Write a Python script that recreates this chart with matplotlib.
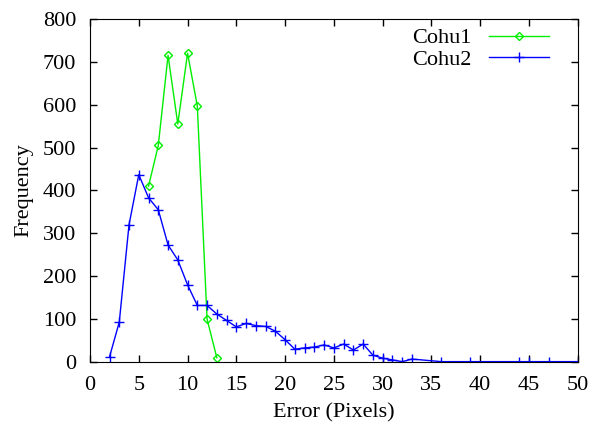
import numpy as np
import matplotlib
matplotlib.use("Agg")
import matplotlib.pyplot as plt

# Cohu1 error histogram
x1 = [6, 7, 8, 9, 10, 11, 12, 13]
y1 = [410, 505, 715, 555, 720, 597, 100, 10]

# Cohu2 error histogram
x2 = [2, 3, 4, 5, 6, 7, 8, 9, 10, 11, 12, 13, 14, 15, 16, 17, 18, 19, 20,
      21, 22, 23, 24, 25, 26, 27, 28, 29, 30, 31, 32, 33, 36, 39, 44, 45, 47, 50]
y2 = [12, 93, 320, 437, 383, 355, 273, 238, 180, 132, 132, 112, 97, 82, 90, 85, 83, 72, 52,
      30, 33, 35, 40, 33, 42, 28, 42, 16, 9, 5, 1, 7, 1, 1, 1, 1, 1, 1]

xticks = np.arange(0, 51, 5)
yticks = np.arange(0, 801, 100)

plt.rcParams['font.family'] = ['Liberation Serif', 'DejaVu Serif']
plt.rcParams['font.size'] = 16

fig = plt.figure(figsize=(6, 4.3), dpi=100)
ax = fig.add_axes([0.15, 0.158, 0.813, 0.798])

ax.plot(x1, y1, color="#00ee00", lw=1, marker="D", ms=4, mfc="none", mec="#00ee00", label="Cohu1")
ax.plot(x2, y2, color="#0000ff", lw=1, marker="+", ms=7, label="Cohu2")

ax.set_xlim(0, 50)
ax.set_ylim(0, 800)
ax.set_xticks(xticks)
ax.set_yticks(yticks)
ax.tick_params(direction="in", top=True, right=True, length=5, width=1, pad=10)
ax.set_xlabel("Error (Pixels)", labelpad=6)
ax.set_ylabel("Frequency", labelpad=7)

ax.legend(loc="upper right", bbox_to_anchor=(0.96, 1.0), frameon=False, markerfirst=False,
          handlelength=2.7, borderaxespad=0, labelspacing=0.05)

plt.savefig("out.png", dpi=100)
